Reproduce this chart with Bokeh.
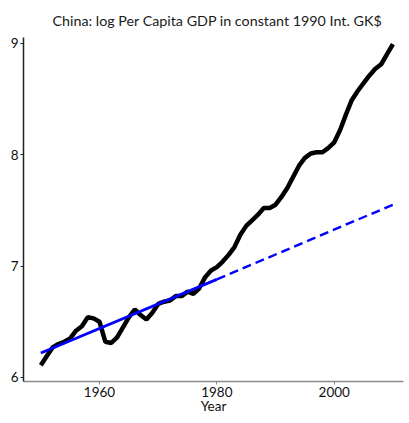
from bokeh.plotting import figure
from bokeh.models import Range1d, FixedTicker
from bokeh.embed import file_html
from bokeh.resources import INLINE

years = list(range(1950, 2011))
log_gdp = [6.11, 6.19, 6.27, 6.30, 6.32, 6.35, 6.42, 6.46, 6.54, 6.53,
           6.50, 6.32, 6.31, 6.36, 6.45, 6.54, 6.61, 6.56, 6.52, 6.58,
           6.66, 6.68, 6.69, 6.73, 6.73, 6.77, 6.75, 6.80, 6.90, 6.96,
           6.99, 7.04, 7.10, 7.17, 7.28, 7.36, 7.41, 7.46, 7.52, 7.52,
           7.55, 7.62, 7.70, 7.80, 7.90, 7.97, 8.01, 8.02, 8.02, 8.06,
           8.11, 8.22, 8.36, 8.49, 8.57, 8.64, 8.71, 8.77, 8.81, 8.90,
           8.99]

trend_fit_years = [1950, 1980]
trend_fit_vals = [6.22, 6.88]
trend_ext_years = [1980, 2010]
trend_ext_vals = [6.88, 7.55]

x_ticks = [1960, 1980, 2000]
y_ticks = [6, 7, 8, 9]

FONT = "Lato"

p = figure(width=406, height=418, output_backend="svg", toolbar_location=None,
           x_range=Range1d(1947.05, 2011.8), y_range=Range1d(5.964, 9.05),
           title="China: log Per Capita GDP in constant 1990 Int. GK$",
           min_border_left=23, min_border_right=3, min_border_top=35,
           min_border_bottom=37)

p.title.align = "left"
p.title.offset = 29
p.title.text_font = FONT
p.title.text_font_size = "14.3px"
p.title.text_font_style = "normal"
p.title.text_color = "#1a1a1a"
p.title.standoff = 18

p.xgrid.visible = False
p.ygrid.visible = False
p.outline_line_color = None
p.background_fill_color = "white"
p.border_fill_color = "white"

p.line(years, log_gdp, line_color="black", line_width=4.5)
p.line(trend_fit_years, trend_fit_vals, line_color="#0000ff", line_width=2.8)
p.line(trend_ext_years, trend_ext_vals, line_color="#0000ff", line_width=2.4,
       line_dash="9 5")

for ax in (p.xaxis[0], p.yaxis[0]):
    ax.minor_tick_line_color = None
    ax.major_tick_in = 0
    ax.major_tick_out = 3
    ax.major_label_text_font = FONT
    ax.major_label_text_font_size = "13.5px"
    ax.major_label_text_color = "#111111"
    ax.major_label_standoff = 2

p.xaxis.ticker = FixedTicker(ticks=x_ticks)
p.yaxis.ticker = FixedTicker(ticks=y_ticks)
p.xaxis.axis_line_color = "#8a8a8a"
p.xaxis.major_tick_line_color = "#8a8a8a"
p.yaxis.axis_line_color = "#222222"
p.yaxis.major_tick_line_color = "#222222"
p.xaxis.axis_line_width = 1.5
p.yaxis.axis_line_width = 1.5

p.xaxis.axis_label = "Year"
p.xaxis.axis_label_text_font = FONT
p.xaxis.axis_label_text_font_size = "13.5px"
p.xaxis.axis_label_text_font_style = "normal"
p.xaxis.axis_label_text_color = "#111111"
p.xaxis.axis_label_standoff = -2

open("out.html", "w").write(file_html(p, INLINE))
